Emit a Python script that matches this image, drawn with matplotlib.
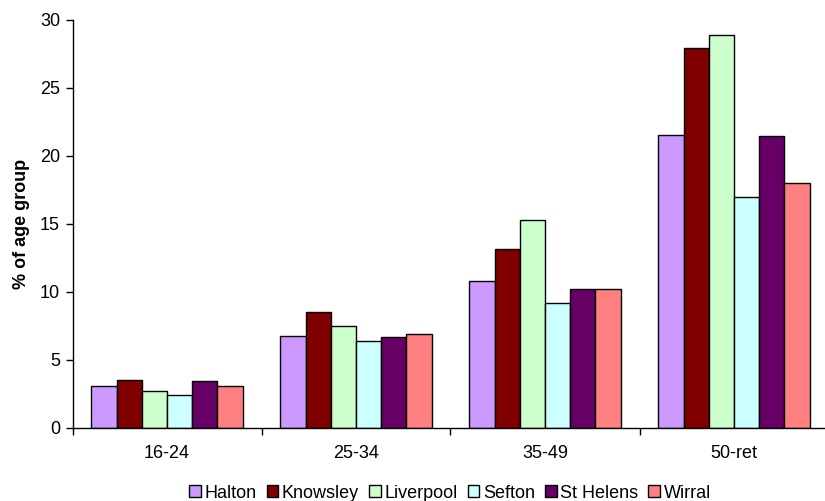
import matplotlib
matplotlib.use("Agg")
import matplotlib.pyplot as plt
import numpy as np

plt.rcParams['font.family'] = ['Liberation Sans', 'DejaVu Sans']

age_groups = ["16-24", "25-34", "35-49", "50-ret"]
areas = ["Halton", "Knowsley", "Liverpool", "Sefton", "St Helens", "Wirral"]
halton = [3.1, 6.75, 10.8, 21.55]
knowsley = [3.5, 8.5, 13.15, 27.95]
liverpool = [2.7, 7.5, 15.3, 28.9]
sefton = [2.45, 6.4, 9.2, 16.95]
st_helens = [3.45, 6.7, 10.2, 21.45]
wirral = [3.1, 6.9, 10.25, 18.05]
colors = ["#CC99FF", "#800000", "#CCFFCC", "#CCFFFF", "#660066", "#FF8080"]
yticks = [0, 5, 10, 15, 20, 25, 30]

series = [halton, knowsley, liverpool, sefton, st_helens, wirral]
FS = 13

fig = plt.figure(figsize=(8.25, 5.01), dpi=100)
ax = fig.add_axes([72.5 / 825, 73 / 501, (828.5 - 72.5) / 825, (428 - 20) / 501])

n = len(series)
gap = 1.5
w = 1.0 / (n + gap)
x = np.arange(len(age_groups))
for i, (vals, name, c) in enumerate(zip(series, areas, colors)):
    offs = (i - (n - 1) / 2) * w
    ax.bar(x + offs, vals, width=w, color=c, edgecolor="black", linewidth=1.0,
           label=name)

ax.set_xlim(-0.5, len(age_groups) - 0.5)
ax.set_ylim(0, 30)
ax.set_yticks(yticks)
ax.set_yticklabels([str(v) for v in yticks], fontsize=FS)
ax.set_xticks(x)
ax.set_xticklabels(age_groups, fontsize=FS)
ax.set_xticks(np.arange(len(age_groups) + 1) - 0.5, minor=True)
ax.tick_params(axis="x", which="major", length=0, pad=12)
ax.tick_params(axis="x", which="minor", length=5, direction="out", width=1)
ax.tick_params(axis="y", length=5, direction="out", width=1, pad=4)
for s in ("top", "right"):
    ax.spines[s].set_visible(False)
for s in ("left", "bottom"):
    ax.spines[s].set_linewidth(1.0)
ax.set_ylabel("% of age group", fontsize=FS, fontweight="bold", labelpad=7)

leg = fig.legend(loc="center", bbox_to_anchor=(450 / 825, 8 / 501), ncol=6,
                 frameon=False, fontsize=FS, handlelength=0.65, handleheight=0.65,
                 handletextpad=0.2, columnspacing=0.55, borderpad=0)

fig.savefig("out.png", dpi=100)
